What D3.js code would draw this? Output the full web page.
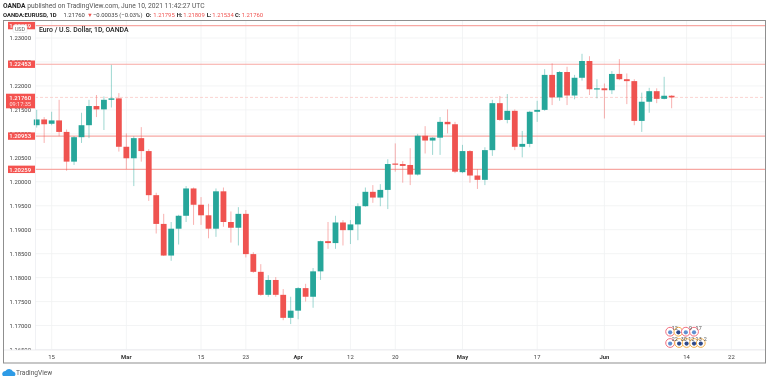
<!DOCTYPE html>
<html>
<head>
<meta charset="utf-8">
<script src="https://cdn.jsdelivr.net/npm/d3@7"></script>
<style>
  html, body { margin: 0; padding: 0; background: #fff; }
  svg { display: block; filter: blur(0.3px); }
  text { font-family: Roboto, "Open Sans", sans-serif; }
</style>
</head>
<body>
<div id="chart"></div>
<script>
// daily EUR/USD bars, first bar is mid Feb 2021
const opens = [1.2118,1.2130,1.2121,1.2128,1.2104,1.2042,1.2093,1.2118,1.2158,1.2151,1.2171,1.2174,1.2073,1.2049,1.2091,1.2064,1.1972,1.1912,1.1846,1.1902,1.1929,1.1986,1.1952,1.1930,1.1902,1.1980,1.1916,1.1904,1.1933,1.1849,1.1812,1.1764,1.1795,1.1764,1.1716,1.1731,1.1778,1.1760,1.1813,1.1876,1.1872,1.1915,1.1899,1.1911,1.1949,1.1979,1.1967,1.1983,1.2038,1.2037,1.2035,1.2015,1.2096,1.2086,1.2092,1.2125,1.2120,1.2020,1.2064,1.2013,1.2004,1.2066,1.2164,1.2129,1.2148,1.2073,1.2079,1.2146,1.2150,1.2223,1.2176,1.2229,1.2180,1.2217,1.2252,1.2193,1.2195,1.2191,1.2225,1.2214,1.2210,1.2127,1.2167,1.2189,1.2173,1.21795];
const highs = [1.2150,1.2135,1.2146,1.2171,1.2109,1.2095,1.2144,1.2171,1.2181,1.2178,1.2244,1.2185,1.2101,1.2095,1.2114,1.2068,1.1977,1.1933,1.1916,1.1931,1.1991,1.1988,1.1968,1.1954,1.1986,1.1988,1.1938,1.1947,1.1941,1.1853,1.1828,1.1805,1.1801,1.1776,1.1760,1.1780,1.1787,1.1820,1.1877,1.1916,1.1929,1.1920,1.1920,1.1955,1.1988,1.1993,1.1995,1.2047,1.2080,1.2043,1.2070,1.2100,1.2116,1.2093,1.2135,1.2151,1.2125,1.2077,1.2066,1.2026,1.2072,1.2171,1.2179,1.2183,1.2151,1.2106,1.2148,1.2169,1.2235,1.2247,1.2231,1.2240,1.2223,1.2267,1.2262,1.2214,1.2205,1.2231,1.2256,1.2226,1.2214,1.2186,1.2196,1.2195,1.2219,1.21809];
const lows = [1.2113,1.2081,1.2118,1.2095,1.2023,1.2035,1.2081,1.2091,1.2135,1.2108,1.2155,1.2063,1.2026,1.1991,1.2042,1.1960,1.1892,1.1845,1.1835,1.1869,1.1916,1.1910,1.1910,1.1882,1.1885,1.1906,1.1873,1.1867,1.1842,1.1810,1.1762,1.1760,1.1760,1.1711,1.1703,1.1713,1.1750,1.1737,1.1795,1.1860,1.1860,1.1867,1.1870,1.1878,1.1948,1.1956,1.1949,1.1943,1.2021,1.1998,1.1993,1.2013,1.2059,1.2056,1.2056,1.2101,1.2018,1.2018,1.1998,1.1985,1.1993,1.2054,1.2127,1.2122,1.2066,1.2051,1.2072,1.2125,1.2148,1.2160,1.2169,1.2160,1.2172,1.2211,1.2181,1.2174,1.2132,1.2183,1.2212,1.2162,1.2118,1.2104,1.2144,1.2164,1.2172,1.21534];
const closes = [1.2130,1.2120,1.2128,1.2104,1.2042,1.2093,1.2118,1.2158,1.2151,1.2171,1.2174,1.2073,1.2049,1.2091,1.2064,1.1972,1.1912,1.1846,1.1902,1.1929,1.1986,1.1952,1.1930,1.1902,1.1980,1.1916,1.1904,1.1933,1.1849,1.1812,1.1764,1.1795,1.1764,1.1716,1.1731,1.1778,1.1760,1.1813,1.1876,1.1872,1.1915,1.1899,1.1911,1.1949,1.1979,1.1967,1.1983,1.2037,1.2036,1.2033,1.2015,1.2096,1.2086,1.2092,1.2125,1.2120,1.2021,1.2064,1.2013,1.2004,1.2066,1.2164,1.2129,1.2148,1.2073,1.2079,1.2146,1.2150,1.2223,1.2176,1.2229,1.2180,1.2217,1.2252,1.2193,1.2195,1.2191,1.2225,1.2214,1.2210,1.2127,1.2167,1.2189,1.2173,1.21795,1.21760];

const priceTicks = [1.165,1.17,1.175,1.18,1.185,1.19,1.195,1.2,1.205,1.21,1.215,1.22,1.225,1.23];
const timeTickBars = [2,12,22,28,35,42,48,57,67,76,87,93];
const timeTickLabels = ['15','Mar','15','23','Apr','12','20','May','17','Jun','14','22'];
const boldTimeLabels = ['Mar','Apr','May','Jun'];
const levels = [1.23259,1.22453,1.20953,1.20259];
const lastPrice = 1.2176;
const lastCountdown = '09:17:35';

const eventBarsTop = [84.8,85.9,86.9,88];
const eventLabelsTop = ['12','','9','17'];
const eventRingsTop = ['#f26d7d','#f5b04c','#f26d7d','#f26d7d'];
const eventBarsBottom = [84.8,86,87,88,88.9];
const eventLabelsBottom = ['22','30','12','13','2'];
const eventRingsBottom = ['#f26d7d','#f5b04c','#f5b04c','#f5b04c','#f5b04c'];

const UP = '#26a69a', DOWN = '#ef5350', LEVEL = '#f7a8a3';
const W = 768, H = 381;
const bars = d3.range(opens.length);

const x = d3.scaleLinear().domain([0, 93]).range([36.7, 731.4]);
const y = d3.scaleLinear().domain([1.17, 1.23]).range([325.5, 38]);
const price = d3.format('.5f');

const svg = d3.select('#chart').append('svg').attr('width', W).attr('height', H);

svg.append('clipPath').attr('id', 'axisClip').append('rect')
  .attr('x', 0).attr('y', 20).attr('width', 36).attr('height', 330);

// header
svg.append('text').attr('x', 3).attr('y', 8).style('font-size', '6.7px').style('fill', '#555')
  .html('<tspan font-weight="700" fill="#222">OANDA</tspan> published on TradingView.com, June 10, 2021 11:42:27 UTC');
function infoText(tx, s, color, weight) {
  svg.append('text').attr('x', tx).attr('y', 16.5)
    .style('font-size', '5.9px').style('font-weight', weight || 400).style('fill', color).text(s);
}
infoText(3, 'OANDA:EURUSD, 1D', '#222', 700);
infoText(63.5, '1.21760', '#444');
infoText(87, '▼', DOWN);
infoText(93, '−0.00035 (−0.03%)', '#444');
infoText(145.7, 'O:', '#222', 700);
infoText(153.3, '1.21795', DOWN);
infoText(176.7, 'H:', '#222', 700);
infoText(183.3, '1.21809', DOWN);
infoText(206.7, 'L:', '#222', 700);
infoText(212.3, '1.21534', DOWN);
infoText(235, 'C:', '#222', 700);
infoText(241.7, '1.21760', DOWN);

// grid
svg.append('g').selectAll('line').data(priceTicks).join('line')
  .attr('x1', 35).attr('x2', 765).attr('y1', d => y(d)).attr('y2', d => y(d))
  .attr('stroke', '#f0f1f3').attr('stroke-width', 0.8);
svg.append('g').selectAll('line').data(timeTickBars).join('line')
  .attr('x1', d => x(d)).attr('x2', d => x(d)).attr('y1', 21).attr('y2', 350)
  .attr('stroke', '#f0f1f3').attr('stroke-width', 0.8);

// price axis labels
svg.append('g').attr('clip-path', 'url(#axisClip)').selectAll('text').data(priceTicks).join('text')
  .attr('x', 31).attr('y', d => y(d) + 2.2).attr('text-anchor', 'end')
  .style('font-size', '5.9px').style('fill', '#444').text(d => price(d));

// time axis labels
svg.append('g').selectAll('text').data(timeTickBars).join('text')
  .attr('x', d => x(d)).attr('y', 359).attr('text-anchor', 'middle')
  .style('font-size', '5.9px')
  .style('fill', (d, i) => boldTimeLabels.includes(timeTickLabels[i]) ? '#333' : '#444')
  .style('font-weight', (d, i) => boldTimeLabels.includes(timeTickLabels[i]) ? 700 : 400)
  .text((d, i) => timeTickLabels[i]);

// horizontal levels
svg.append('g').selectAll('line').data(levels).join('line')
  .attr('x1', 35).attr('x2', 765).attr('y1', d => y(d)).attr('y2', d => y(d))
  .attr('stroke', LEVEL).attr('stroke-width', 1.1);
svg.append('line').attr('x1', 35).attr('x2', 765).attr('y1', y(lastPrice)).attr('y2', y(lastPrice))
  .attr('stroke', '#f9c9c6').attr('stroke-width', 0.8).attr('stroke-dasharray', '3 2');

// candles
const candles = svg.append('g');
candles.selectAll('line').data(bars).join('line')
  .attr('x1', i => x(i)).attr('x2', i => x(i))
  .attr('y1', i => y(highs[i])).attr('y2', i => y(lows[i]))
  .attr('stroke', i => closes[i] >= opens[i] ? UP : DOWN)
  .attr('stroke-opacity', 0.45).attr('stroke-width', 1);
candles.selectAll('rect').data(bars).join('rect')
  .attr('x', i => x(i) - 2.9).attr('width', 5.8)
  .attr('y', i => y(Math.max(opens[i], closes[i])))
  .attr('height', i => Math.max(1.2, Math.abs(y(opens[i]) - y(closes[i]))))
  .attr('fill', i => closes[i] >= opens[i] ? UP : DOWN);

// level tags on the price axis
const tags = svg.append('g');
levels.forEach(v => {
  tags.append('rect').attr('x', 8).attr('y', y(v) - 3.7).attr('width', 27).attr('height', 7.4).attr('fill', '#f4524f');
  tags.append('text').attr('x', 31).attr('y', y(v) + 2.2).attr('text-anchor', 'end')
    .style('font-size', '5.9px').style('font-weight', 500).style('fill', '#fff').text(price(v));
});
tags.append('rect').attr('x', 6).attr('y', y(lastPrice) - 3.7).attr('width', 29).attr('height', 14.6).attr('fill', '#f4524f');
tags.append('text').attr('x', 31).attr('y', y(lastPrice) + 2.2).attr('text-anchor', 'end')
  .style('font-size', '5.9px').style('font-weight', 500).style('fill', '#fff').text(price(lastPrice));
tags.append('text').attr('x', 31).attr('y', y(lastPrice) + 9).attr('text-anchor', 'end')
  .style('font-size', '5.6px').style('fill', '#ffdedc').text(lastCountdown);

// USD badge and title
svg.append('rect').attr('x', 13).attr('y', 25).attr('width', 14).attr('height', 7.5).attr('rx', 1.5)
  .attr('fill', '#fff').attr('stroke', '#ddd').attr('stroke-width', 0.5);
svg.append('text').attr('x', 20).attr('y', 31).attr('text-anchor', 'middle')
  .style('font-size', '5.4px').style('fill', '#666').text('USD');
svg.append('text').attr('x', 39).attr('y', 31.5)
  .style('font-size', '6.9px').style('font-weight', 500).style('fill', '#222')
  .text('Euro / U.S. Dollar, 1D, OANDA');

// event markers
function eventRow(barsList, labels, rings, cy) {
  const g = svg.append('g');
  barsList.forEach((b, i) => {
    g.append('circle').attr('cx', x(b)).attr('cy', cy).attr('r', 4.4)
      .attr('fill', '#fff').attr('stroke', rings[i]).attr('stroke-width', 1);
  });
  barsList.forEach((b, i) => {
    g.append('circle').attr('cx', x(b)).attr('cy', cy + 0.6).attr('r', 2.1)
      .attr('fill', rings[i] === '#f5b04c' ? '#2f4a8a' : '#5f8fd0');
    g.append('text').attr('x', x(b) + 4.6).attr('y', cy - 2).attr('text-anchor', 'middle')
      .style('font-size', '5.4px').style('fill', '#555').text(labels[i]);
  });
}
eventRow(eventBarsTop, eventLabelsTop, eventRingsTop, 331.7);
eventRow(eventBarsBottom, eventLabelsBottom, eventRingsBottom, 343);

// frame
svg.append('line').attr('x1', 35.5).attr('x2', 35.5).attr('y1', 21).attr('y2', 350).attr('stroke', '#eceef1').attr('stroke-width', 0.8);
svg.append('line').attr('x1', 3).attr('x2', 766).attr('y1', 350).attr('y2', 350).attr('stroke', '#e8e9ec').attr('stroke-width', 0.8);
svg.append('rect').attr('x', 3.5).attr('y', 20.5).attr('width', 762).attr('height', 342.5)
  .attr('fill', 'none').attr('stroke', '#8f8f8f').attr('stroke-width', 1);

// footer logo
svg.append('path')
  .attr('d', 'M3 376 a3 3 0 0 1 2.4 -5 a4.5 4.5 0 0 1 7.6 0.4 a2.7 2.7 0 0 1 1.6 4.6 z')
  .attr('fill', '#2e9be6');
svg.append('text').attr('x', 16).attr('y', 375)
  .style('font-size', '6.6px').style('fill', '#555').text('TradingView');
</script>
</body>
</html>
